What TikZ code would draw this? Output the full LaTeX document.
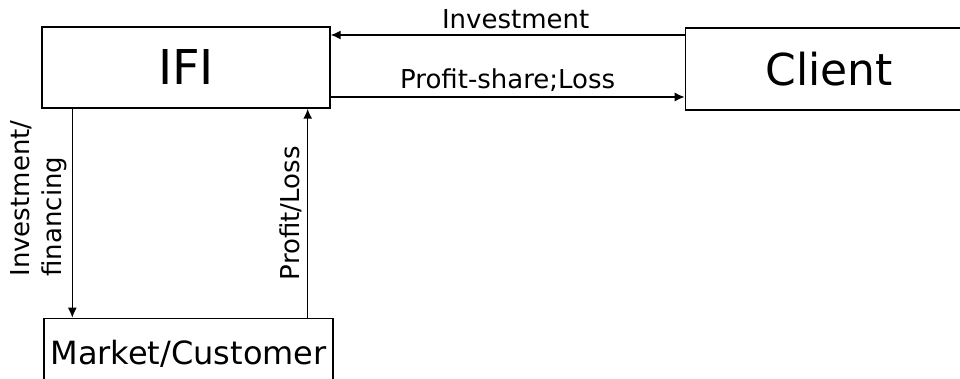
\documentclass[tikz,border=0pt]{standalone}
\usepackage{fontspec}
\setmainfont{DejaVu Sans}
\usetikzlibrary{shapes,arrows.meta,positioning}
\tikzstyle{block} = [rectangle, draw, line width=0.7pt, inner sep=0pt,
    minimum width=144pt, minimum height=40.5pt]
\tikzstyle{line} = [draw, line width=0.7pt, -{Latex[length=5pt,width=4.5pt]}]
\tikzstyle{flow} = [font=\fontsize{13}{16}\selectfont, inner sep=2.5pt]

\begin{document}
\begin{tikzpicture}[x=0.5pt, y=-0.5pt, node distance = 2cm, auto]
		\useasboundingbox (0,0) rectangle (960,379);
		% node placement
		\node [block, font=\fontsize{24}{28}\selectfont] (IFI) at (186,67.5) {IFI};
		\node [block, right = 177pt of IFI, yshift=-0.75pt, minimum height=41pt, font=\fontsize{22}{26}\selectfont] (Client) {Client};
		\node [block, below = 104.5pt of IFI, xshift=1.25pt, minimum width=144.5pt, minimum height=35pt, font=\fontsize{16}{19}\selectfont] (Market) {Market/Customer};
		
		% flows between IFI and client
		\path[line] ([yshift=17pt]Client.west) -- ([yshift=17pt]Client.west -| IFI.east)
			node [flow, midway, above, xshift=4pt] {Investment};
		\path[line] ([yshift=-14.75pt]IFI.east) -- ([yshift=-14.75pt]IFI.east -| Client.west)
			node [flow, midway, above] {Profit-share;Loss};
		
		% flows between IFI and market
		\path[line] ([xshift=15.5pt]IFI.south west) -- ([xshift=15.5pt]IFI.south west |- Market.north)
			node [flow, pos=0.43, rotate=90, anchor=south, align=left] {Investment/\\financing};
		\path[line] ([xshift=-11.5pt]IFI.south east |- Market.north) -- ([xshift=-11.5pt]IFI.south east)
			node [flow, midway, rotate=90, anchor=south] {Profit/Loss};
	\end{tikzpicture}
\end{document}
